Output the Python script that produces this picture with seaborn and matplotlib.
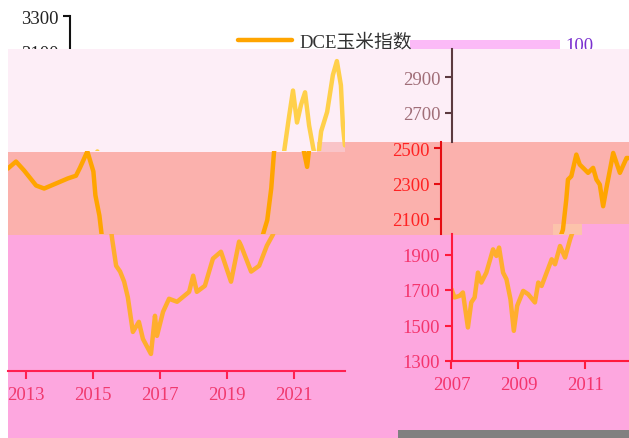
import matplotlib
matplotlib.use("Agg")
import matplotlib.pyplot as plt
import pandas as pd
import seaborn as sns
from matplotlib.lines import Line2D
from matplotlib.patches import Rectangle

# DCE corn index (decimal year, index level)
years_early = [2007.00, 2007.09, 2007.24, 2007.34, 2007.49, 2007.59, 2007.69, 2007.79,
               2007.89, 2008.04, 2008.14, 2008.24, 2008.34, 2008.42, 2008.54, 2008.64,
               2008.76, 2008.86, 2008.96, 2009.14, 2009.29, 2009.49, 2009.59, 2009.69,
               2009.84, 2009.99, 2010.09, 2010.24, 2010.39, 2010.54, 2010.64, 2010.74,
               2010.79, 2010.89, 2011.04, 2011.14, 2011.29, 2011.39, 2011.54, 2011.64,
               2011.74, 2011.84, 2011.94, 2012.14, 2012.34, 2012.54]
values_early = [1705, 1658, 1667, 1686, 1489, 1630, 1658, 1798,
                1742, 1798, 1863, 1929, 1892, 1939, 1798, 1761,
                1648, 1470, 1611, 1695, 1676, 1630, 1742, 1723,
                1798, 1873, 1845, 1948, 1883, 1985, 2040, 2210,
                2322, 2341, 2463, 2407, 2379, 2360, 2388, 2322,
                2294, 2172, 2276, 2472, 2360, 2444]

years_late = [2012.76, 2013.00, 2013.24, 2013.60, 2013.84, 2014.19, 2014.55, 2014.79,
              2014.91, 2015.13, 2015.31, 2015.37, 2015.49, 2015.57, 2015.69, 2015.81,
              2015.93, 2016.04, 2016.19, 2016.37, 2016.49, 2016.73, 2016.85, 2016.91,
              2017.09, 2017.27, 2017.51, 2017.87, 2017.99, 2018.10, 2018.34, 2018.58,
              2018.82, 2019.12, 2019.36, 2019.42, 2019.72, 2019.96, 2020.19, 2020.37,
              2020.50, 2020.62, 2020.70, 2020.85, 2020.97, 2021.09, 2021.21, 2021.33,
              2021.45, 2021.57, 2021.69, 2021.81, 2021.99, 2022.16, 2022.28, 2022.40,
              2022.46, 2022.52]
values_late = [2441, 2480, 2430, 2345, 2328, 2356, 2385, 2400,
               2445, 2537, 2424, 2290, 2175, 2046, 1893, 1860,
               1803, 1715, 1520, 1577, 1481, 1396, 1611, 1498,
               1633, 1707, 1690, 1746, 1837, 1746, 1780, 1933,
               1972, 1803, 2029, 2006, 1860, 1893, 2006, 2068,
               2150, 2330, 2530, 2730, 2880, 2700, 2800, 2870,
               2684, 2560, 2450, 2650, 2760, 2967, 3046, 2910,
               2684, 2571]

y_ticks = [1300, 1500, 1700, 1900, 2100, 2300, 2500, 2700, 2900, 3100, 3300]
x_ticks_early = [2007, 2009, 2011]
x_ticks_late = [2013, 2015, 2017, 2019, 2021]
series_name = "DCE玉米指数"

df = pd.DataFrame({"year": years_early + years_late,
                   "value": values_early + values_late})

sns.set_style("white")
plt.rcParams["font.family"] = ["Liberation Serif", "Noto Sans CJK SC", "DejaVu Sans"]

W, H = 629, 439
PX_PER_YEAR = 33.5
PX_PER_UNIT = 0.1775
FS = 13.5
LW = 3.2

fig = plt.figure(figsize=(W / 100, H / 100), dpi=100)


def box(x0, x1, y0, y1):
    return [x0 / W, 1 - y1 / H, (x1 - x0) / W, (y1 - y0) / H]


def rect(x0, x1, y0, y1, color, z=1):
    fig.add_artist(Rectangle((x0 / W, 1 - y1 / H), (x1 - x0) / W, (y1 - y0) / H,
                             transform=fig.transFigure, facecolor=color,
                             edgecolor="none", zorder=z))


# background strips
rect(8, 629, 50, 153, "#fdeef7")
rect(8, 317, 153, 236, "#fbb1ad")
rect(317, 629, 143, 236, "#fbb1ad")
rect(8, 629, 236, 439, "#fda7df")
rect(582, 629, 225, 236, "#fda7df")
rect(553, 582, 225, 236, "#fcc3ab")
rect(317, 345, 143, 153, "#f9c4c8")
rect(398, 629, 431, 439, "#808080")
rect(410, 560, 41, 50, "#fbbaf7", z=0.8)

fig.text(565 / W, 1 - 51 / H, "100", color="#7a30cf", fontsize=FS,
         va="baseline", zorder=0.5)


def panel(x0, x1, y0, y1, base, ref_x, ref_year, line_color, z=2):
    ax = fig.add_axes(box(x0, x1, y0, y1), zorder=z)
    ax.patch.set_visible(False)
    sns.lineplot(data=df, x="year", y="value", ax=ax, color=line_color,
                 linewidth=LW, legend=False)
    for s in ax.spines.values():
        s.set_visible(False)
    ax.set_xlabel("")
    ax.set_ylabel("")
    ax.set_xticks([])
    ax.set_yticks([])
    ax.set_xlim(ref_year + (x0 - ref_x) / PX_PER_YEAR, ref_year + (x1 - ref_x) / PX_PER_YEAR)
    ax.set_ylim(1300 + (base - y1) / PX_PER_UNIT, 1300 + (base - y0) / PX_PER_UNIT)
    return ax


def yaxis(ax, spine_color, label_color):
    ax.spines["left"].set_visible(True)
    ax.spines["left"].set_color(spine_color)
    ax.spines["left"].set_linewidth(1.5)
    lim = ax.get_ylim()
    ax.set_yticks(y_ticks)
    ax.set_ylim(lim)
    ax.tick_params(axis="y", left=True, length=5, width=1.5, pad=3,
                   color=spine_color, labelcolor=label_color, labelsize=FS)


def xaxis(ax, ticks, spine_color, label_color):
    ax.spines["bottom"].set_visible(True)
    ax.spines["bottom"].set_color(spine_color)
    ax.spines["bottom"].set_linewidth(1.5)
    lim = ax.get_xlim()
    ax.set_xticks(ticks)
    ax.set_xlim(lim)
    ax.tick_params(axis="x", bottom=True, length=5.5, width=1.5, pad=5,
                   color=spine_color, labelcolor=label_color, labelsize=FS)


# early years (shown on the right)
r1 = panel(451.5, 629, 50, 143, 362, 451.5, 2007, "#ffd04a")
yaxis(r1, "#5c3a40", "#a06e78")
r2 = panel(441, 629, 143, 235, 362, 441, 2007, "#ffa500")
yaxis(r2, "#e50d12", "#ff2222")
r3 = panel(451.5, 629, 235, 362, 362, 451.5, 2007, "#ffae2e")
yaxis(r3, "#ff1a3c", "#f4356d")
xaxis(r3, x_ticks_early, "#ff1a3c", "#f4356d")

# later years (shown on the left)
panel(8, 345, 50, 152, 372, 26, 2013, "#ffd04a")
panel(8, 345, 152, 235, 372, 16, 2013, "#ffa500")
l3 = panel(8, 345, 235, 372, 372, 26, 2013, "#ffae2e")
xaxis(l3, x_ticks_late, "#ff2050", "#f03a6e")

# top-left piece of the value axis
top = fig.add_axes(box(70, 200, 17, 62), zorder=0)
top.patch.set_visible(False)
for s in top.spines.values():
    s.set_visible(False)
top.spines["left"].set_visible(True)
top.spines["left"].set_color("#111111")
top.spines["left"].set_linewidth(1.5)
top.set_xticks([])
top.set_yticks(y_ticks)
top.set_ylim(1300 + (372 - 62) / PX_PER_UNIT, 1300 + (372 - 17) / PX_PER_UNIT)
top.tick_params(axis="y", left=True, length=5, width=1.5, pad=3,
                color="#111111", labelcolor="#222222", labelsize=FS)

handle = Line2D([], [], color="#ffa500", linewidth=LW)
fig.legend(handles=[handle], labels=[series_name], loc="center left",
           bbox_to_anchor=(238 / W, 1 - 43 / H), frameon=False, borderpad=0,
           borderaxespad=0, handlelength=2.9, handletextpad=0.4,
           fontsize=FS, labelcolor="#333333")

fig.savefig("out.png", dpi=100)
